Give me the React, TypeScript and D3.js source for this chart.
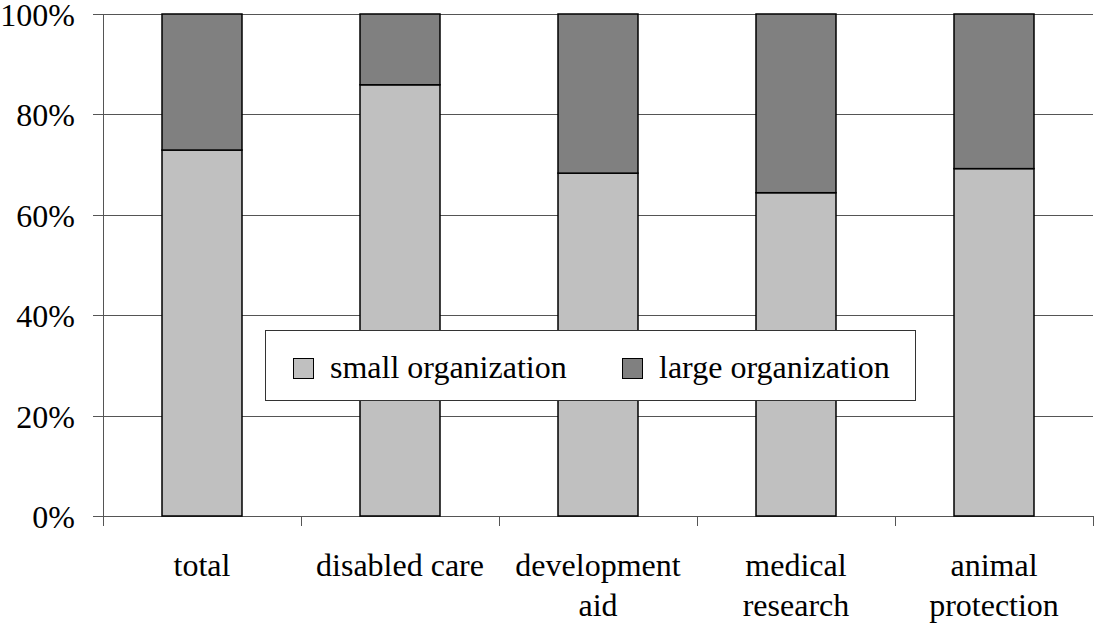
import * as d3 from "d3";

const categories = [
  ["total"],
  ["disabled care"],
  ["development", "aid"],
  ["medical", "research"],
  ["animal", "protection"],
];
const smallShare = [72.9, 85.9, 68.3, 64.4, 69.2];
const largeShare = smallShare.map((v) => 100 - v);
const seriesNames = ["small organization", "large organization"];
const seriesColors = ["#c0c0c0", "#808080"];
const yTicks = [0, 20, 40, 60, 80, 100];

const FONT = "Times New Roman, Tinos, Liberation Serif, Times, serif";

const width = 1094;
const height = 624;
const margin = { top: 14, bottom: 108, left: 103, right: 1 };
const plotWidth = width - margin.left - margin.right;
const plotHeight = height - margin.top - margin.bottom;

const App = () => {
  const keys = categories.map((c) => c.join(" "));
  const x = d3.scaleBand(keys, [0, plotWidth]).paddingInner(0.596).paddingOuter(0.298);
  const y = d3.scaleLinear([0, 100], [plotHeight, 0]);

  const rows = keys.map((k, i) => ({ key: k, small: smallShare[i], large: largeShare[i] }));
  const stack = d3.stack<any>().keys(["small", "large"])(rows);
  const bounds = d3.range(keys.length + 1).map((i) => Math.round(i * x.step()) + 0.5);
  const legendX = [293, 622];

  return (
    <svg width={width} height={height} style={{ position: "absolute", left: 0, top: 0 }}>
      <g transform={`translate(${margin.left},${margin.top})`}>
        {yTicks.map((t) => {
          const yy = Math.round(y(t)) + 0.5;
          return <line key={t} x1={-10} x2={plotWidth} y1={yy} y2={yy} stroke="#555" />;
        })}
        {yTicks.map((t) => (
          <text key={t} x={-28} y={y(t) + 12} textAnchor="end" fontSize={32} fontFamily={FONT}>
            {t}%
          </text>
        ))}
        <line x1={0.5} x2={0.5} y1={0} y2={plotHeight} stroke="#555" />
        {bounds.map((b) => (
          <line key={b} x1={b} x2={b} y1={plotHeight} y2={plotHeight + 10} stroke="#555" />
        ))}

        {stack.map((s, si) => (
          <g key={s.key} fill={seriesColors[si]}>
            {s.map((d: any) => (
              <rect
                key={d.data.key}
                x={x(d.data.key)}
                y={y(d[1])}
                width={x.bandwidth()}
                height={y(d[0]) - y(d[1])}
                stroke="#000"
                strokeWidth={1.5}
              />
            ))}
          </g>
        ))}

        {categories.map((lines, i) => {
          const cx = x(keys[i])! + x.bandwidth() / 2;
          return lines.map((line, j) => (
            <text
              key={line}
              x={cx}
              y={plotHeight + 60 + j * 40}
              textAnchor="middle"
              fontSize={32}
              fontFamily={FONT}
            >
              {line}
            </text>
          ));
        })}
      </g>

      <rect x={265.5} y={330.5} width={650} height={70} fill="white" stroke="#333" />
      {seriesNames.map((name, i) => (
        <rect
          key={name}
          x={legendX[i] + 0.5}
          y={358.5}
          width={20}
          height={20}
          fill={seriesColors[i]}
          stroke="#000"
        />
      ))}
      {seriesNames.map((name, i) => (
        <text key={name} x={legendX[i] + 37} y={378} fontSize={32} fontFamily={FONT}>
          {name}
        </text>
      ))}
    </svg>
  );
};

export default App;
